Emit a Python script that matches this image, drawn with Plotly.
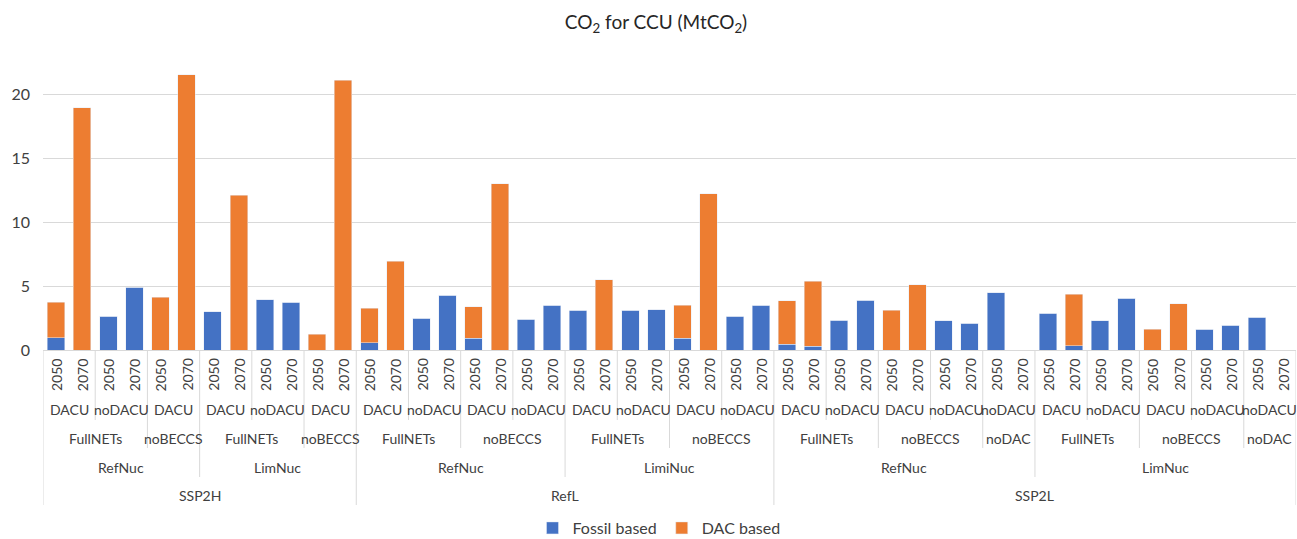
import plotly.graph_objects as go

# Category hierarchy, one list per level (outermost first), given as (label, bar count)
scenarios = [("SSP2H", 12), ("RefL", 16), ("SSP2L", 20)]
nuclear = [("RefNuc", 6), ("LimNuc", 6), ("RefNuc", 8), ("LimiNuc", 8),
           ("RefNuc", 10), ("LimNuc", 10)]
nets = [("FullNETs", 4), ("noBECCS", 2), ("FullNETs", 4), ("noBECCS", 2),
        ("FullNETs", 4), ("noBECCS", 4), ("FullNETs", 4), ("noBECCS", 4),
        ("FullNETs", 4), ("noBECCS", 4), ("noDAC", 2),
        ("FullNETs", 4), ("noBECCS", 4), ("noDAC", 2)]
dacu = [("DACU", 2), ("noDACU", 2), ("DACU", 2),
        ("DACU", 2), ("noDACU", 2), ("DACU", 2),
        ("DACU", 2), ("noDACU", 2), ("DACU", 2), ("noDACU", 2),
        ("DACU", 2), ("noDACU", 2), ("DACU", 2), ("noDACU", 2),
        ("DACU", 2), ("noDACU", 2), ("DACU", 2), ("noDACU", 2), ("noDACU", 2),
        ("DACU", 2), ("noDACU", 2), ("DACU", 2), ("noDACU", 2), ("noDACU", 2)]
years = ["2050", "2070"] * 24

# CO2 for CCU (MtCO2)
fossil = [0.96, 0, 2.63, 4.90, 0, 0,
          2.99, 0, 3.91, 3.72, 0, 0,
          0.57, 0, 2.50, 4.27, 0.91, 0, 2.40, 3.49,
          3.10, 0, 3.10, 3.13, 0.91, 0, 2.63, 3.49,
          0.44, 0.29, 2.34, 3.88, 0, 0, 2.29, 2.08, 4.48, 0,
          2.86, 0.34, 2.29, 4.06, 0, 0, 1.61, 1.93, 2.55, 0]
dac = [2.76, 18.93, 0, 0, 4.14, 21.51,
       0, 12.08, 0, 0, 1.25, 21.09,
       2.69, 6.93, 0, 0, 2.48, 12.97, 0, 0,
       0, 5.49, 0, 0, 2.58, 12.19, 0, 0,
       3.39, 5.07, 0, 0, 3.10, 5.10, 0, 0, 0, 0,
       0, 4.01, 0, 0, 1.61, 3.62, 0, 0, 0, 0]

FONT = "Lato"
TXT = "#404040"
GRID = "#d9d9d9"
W, H = 1297, 539
TOP, BOTTOM = 60, 350          # plot area in pixels
PLOT_H = BOTTOM - TOP


def py(pix):
    """pixel row -> paper y"""
    return (BOTTOM - pix) / PLOT_H


x = list(range(len(years)))

fig = go.Figure()
fig.add_trace(go.Bar(x=x, y=fossil, name="Fossil based", marker_color="#4472C4"))
fig.add_trace(go.Bar(x=x, y=dac, name="DAC based", marker_color="#ED7D31"))

# label rows (pixel centre) and separator depth (pixel bottom) per level
levels = [
    (dacu, 409, 420),
    (nets, 438, 448),
    (nuclear, 467, 477),
    (scenarios, 495, 505),
]

annotations = []
shapes = []
depth = {}
for groups, ylab, ybot in levels:
    start = 0
    for label, n in groups:
        annotations.append(dict(x=start + (n - 1) / 2, y=py(ylab), xref="x", yref="paper",
                                xanchor="center", yanchor="middle",
                                text=label, showarrow=False,
                                font=dict(family=FONT, size=14, color=TXT)))
        for b in (start - 0.5, start + n - 0.5):
            depth[b] = max(depth.get(b, 0), ybot)
        start += n

for b, ybot in depth.items():
    shapes.append(dict(type="line", xref="x", yref="paper", x0=b, x1=b,
                       y0=0, y1=py(ybot), line=dict(color=GRID, width=1)))

for i, yr in enumerate(years):
    annotations.append(dict(x=i, y=py(375), xref="x", yref="paper", text=yr,
                            xanchor="center", yanchor="middle",
                            textangle=-90, showarrow=False,
                            font=dict(family=FONT, size=14, color=TXT)))

fig.update_layout(
    width=W, height=H,
    margin=dict(l=43, r=1, t=TOP, b=H - BOTTOM, autoexpand=False),
    paper_bgcolor="white", plot_bgcolor="white",
    barmode="stack", bargap=0.33,
    title=dict(text="CO<sub>2</sub> for CCU (MtCO<sub>2</sub>)",
               x=656 / W, xref="container", xanchor="center",
               y=1 - 22 / H, yref="container", yanchor="middle",
               font=dict(family=FONT, size=19, color="#262626")),
    xaxis=dict(range=[-0.5, len(years) - 0.5], showticklabels=False, ticks="",
               showgrid=False, zeroline=False, showline=True, linecolor=GRID,
               linewidth=1, fixedrange=True),
    yaxis=dict(range=[0, PLOT_H / 12.8], dtick=5, tick0=0, showgrid=True,
               gridcolor=GRID, gridwidth=1, zeroline=False, showline=False,
               ticks="", ticklabelstandoff=12,
               tickfont=dict(family=FONT, size=16, color=TXT)),
    legend=dict(orientation="h", x=(659 - 43) / 1253, xanchor="center",
                y=py(528), yanchor="middle",
                font=dict(family=FONT, size=16, color=TXT),
                itemwidth=30, traceorder="normal"),
    annotations=annotations,
    shapes=shapes,
)

fig.write_html("out.html")
